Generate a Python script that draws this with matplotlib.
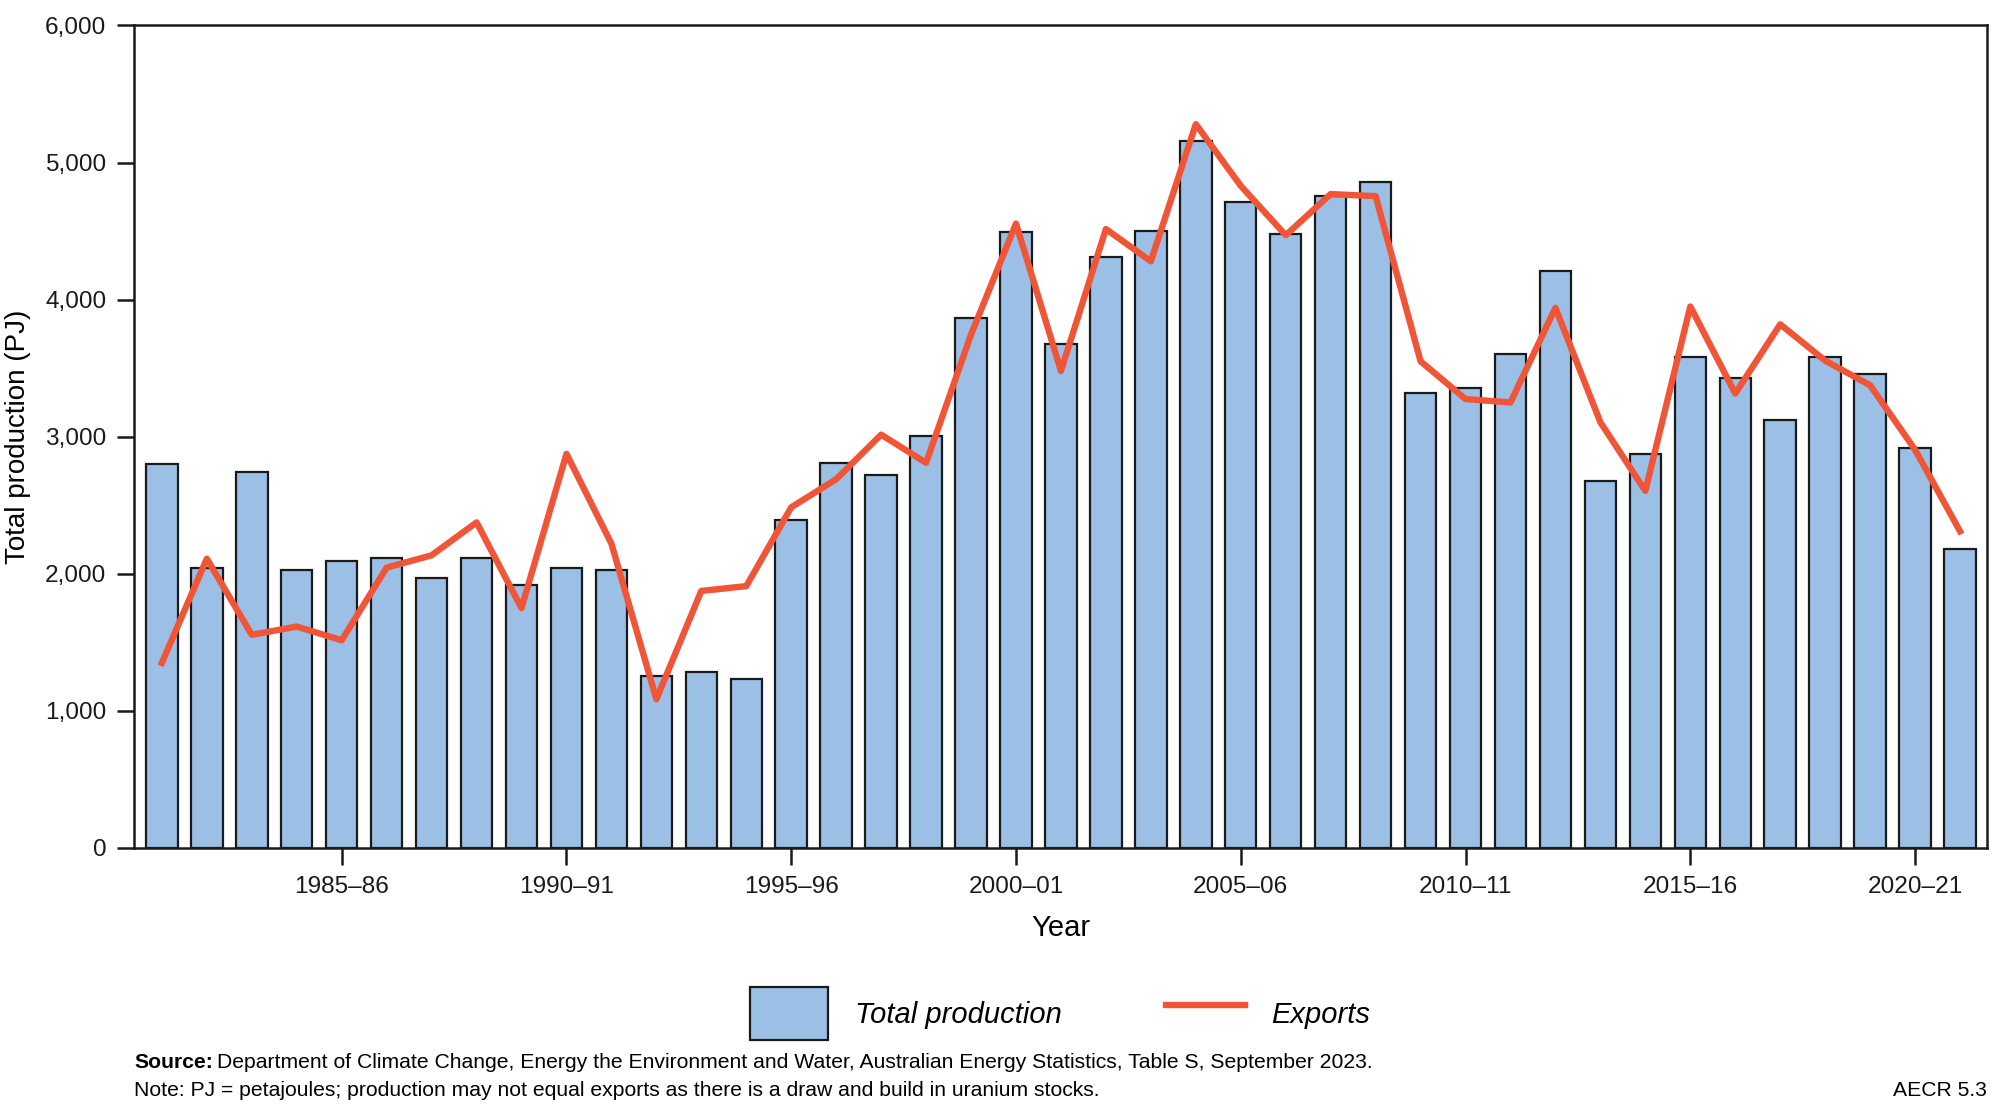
import matplotlib
matplotlib.use("Agg")
import matplotlib.pyplot as plt
import numpy as np

# uranium production and exports, PJ, 1981-82 to 2021-22
years = ["%d\u2013%02d" % (y, (y + 1) % 100) for y in range(1981, 2022)]
production = [2800, 2040, 2740, 2030, 2090, 2115, 1970, 2115, 1920, 2045,
              2030, 1255, 1280, 1230, 2390, 2805, 2720, 3005, 3865, 4490,
              3675, 4310, 4500, 5155, 4715, 4480, 4755, 4855, 3320, 3355,
              3600, 4210, 2680, 2875, 3585, 3425, 3125, 3580, 3455, 2920,
              2180]
exports = [1350, 2110, 1555, 1615, 1515, 2045, 2135, 2375, 1750, 2875,
           2220, 1085, 1875, 1910, 2485, 2690, 3015, 2810, 3745, 4555,
           3480, 4515, 4280, 5280, 4830, 4470, 4770, 4755, 3550, 3275,
           3250, 3940, 3105, 2605, 3950, 3315, 3820, 3555, 3375, 2905,
           2310]
tick_labels = ["1985\u201386", "1990\u201391", "1995\u201396", "2000\u201301",
               "2005\u201306", "2010\u201311", "2015\u201316", "2020\u201321"]

plt.rcParams['font.family'] = ['Liberation Sans', 'DejaVu Sans']

fig = plt.figure(figsize=(10, 5.54), dpi=200)
ax = fig.add_axes([0.067, 0.2347, 0.9265, 0.7423])

x = np.arange(len(years))
bars = ax.bar(x, production, width=0.7, color='#9BBFE5', edgecolor='#1a1a1a',
              linewidth=0.8, label='Total production', zorder=2)
line, = ax.plot(x, exports, color='#F05538', linewidth=2.3, label='Exports', zorder=3)

ax.set_xlim(-0.62, len(years) - 0.4)
ax.set_ylim(0, 6000)
ax.set_yticks(np.arange(0, 6001, 1000))
ax.set_yticklabels(["{:,}".format(v) for v in range(0, 6001, 1000)])
tick_pos = [years.index(t) for t in tick_labels]
ax.set_xticks(tick_pos)
ax.set_xticklabels(tick_labels)
ax.tick_params(axis='both', direction='out', length=6, width=0.9,
               labelsize=8.8, colors='#1a1a1a', pad=4)
for s in ax.spines.values():
    s.set_linewidth(0.9)
    s.set_color('#1a1a1a')

ax.set_xlabel('Year', fontsize=10.5, labelpad=6)
ax.set_ylabel('Total production (PJ)', fontsize=10, labelpad=5)

leg = ax.legend([bars, line], ['Total production', 'Exports'],
                loc='center', bbox_to_anchor=(0.53, 0.085), bbox_transform=fig.transFigure,
                ncol=2, frameon=False, handlelength=2.7, handleheight=2.4,
                columnspacing=3.6, handletextpad=0.9, prop={'style': 'italic', 'size': 10.5})

fig.text(0.067, 0.036, 'Source:', fontsize=7.6, fontweight='bold', va='baseline')
fig.text(0.1085, 0.036, 'Department of Climate Change, Energy the Environment and Water, '
         'Australian Energy Statistics, Table S, September 2023.', fontsize=7.6, va='baseline')
fig.text(0.067, 0.011, 'Note: PJ = petajoules; production may not equal exports as there is '
         'a draw and build in uranium stocks.', fontsize=7.6, va='baseline')
fig.text(0.9935, 0.011, 'AECR 5.3', fontsize=7.6, ha='right', va='baseline')

fig.savefig('out.png', dpi=200)
